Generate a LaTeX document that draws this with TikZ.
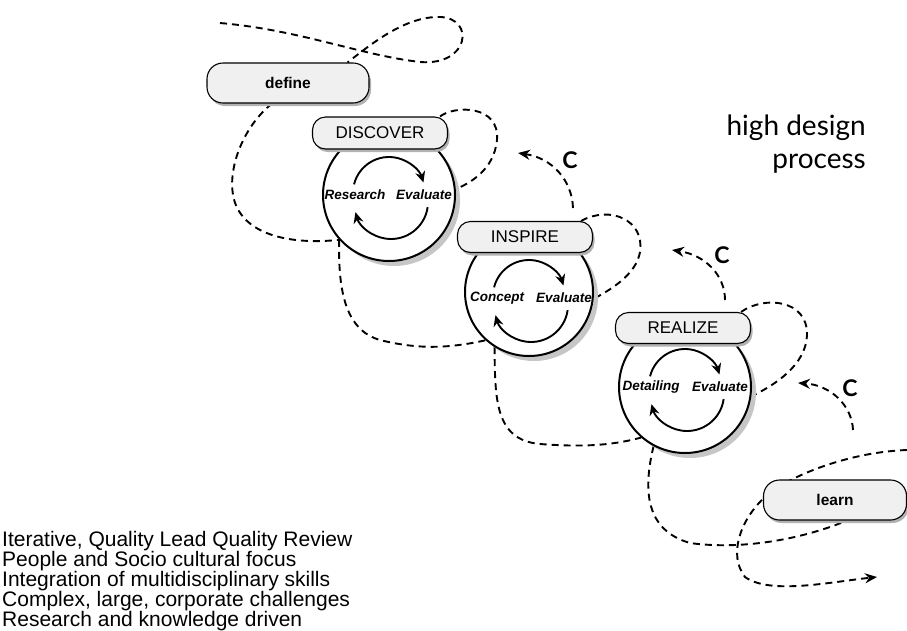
\documentclass[tikz,border=0pt]{standalone}
\usepackage{fontspec}
\setmainfont{Liberation Sans}
\newfontfamily\hfont{Lato}
\usetikzlibrary{arrows.meta,calc,shadows}
\pgfdeclarelayer{background}
\pgfsetlayers{background,main}
\tikzset{
 dline/.style={line width=1.9pt, dash pattern=on 7pt off 5pt},
 pill/.style={draw=black, line width=1.1pt, fill=gray!12, rounded corners=13pt, inner sep=0pt,
   drop shadow={shadow xshift=2pt, shadow yshift=-3pt, fill=gray!60, opacity=1}},
 circ/.style={circle, draw=black, line width=2pt, fill=white, inner sep=0pt,
   drop shadow={shadow xshift=5pt, shadow yshift=-5pt, fill=gray!45, opacity=1}},
 inarr/.style={line width=1.9pt, -{Stealth[length=11pt,width=10pt]}},
 clab/.style={font=\hfont\bfseries\fontsize{23}{23}\selectfont, inner sep=0pt},
 cyc/.style={font=\bfseries\itshape\fontsize{13.5}{13.5}\selectfont, inner sep=0pt},
 tipend/.style={-{Stealth[length=12pt,width=10pt]}},
 bigpill/.style={pill, font=\bfseries\fontsize{15.5}{16}\selectfont},
 stagepill/.style={pill, font=\fontsize{17}{17}\selectfont, minimum width=135pt, minimum height=32pt}
}
\begin{document}
\begin{tikzpicture}[x=1pt,y=1pt]
\useasboundingbox (0,-630) rectangle (907,0);

% circles and pills
\node[circ, minimum size=132pt] (dcirc) at (389,-195) {};
\node[stagepill] (disc) at (380,-133) {DISCOVER};
\node[bigpill, minimum width=162pt, minimum height=40pt, rounded corners=16pt] (define) at (288,-83) {define};
\node[circ, minimum size=128pt] (icirc) at (529,-292) {};
\node[stagepill, minimum height=31pt] (insp) at (525,-237) {INSPIRE};
\node[circ, minimum size=132pt] (rcirc) at (685,-387) {};
\node[stagepill, minimum height=31pt] (real) at (683,-328) {REALIZE};
\node[bigpill, minimum width=143pt, minimum height=40pt, rounded corners=16pt] (learn) at (835,-500) {learn};

% cycle labels
\node[cyc] (res) at (355,-195) {Research};
\node[cyc] (ev1) at (424,-195) {Evaluate};
\node[cyc] (con) at (497,-298) {Concept};
\node[cyc] (ev2) at (564,-298) {Evaluate};
\node[cyc] (det) at (651,-387) {Detailing};
\node[cyc] (ev3) at (720,-387) {Evaluate};

% cycle arrows
\draw[inarr] ($(389,-193)+(166:36)$) arc[start angle=166,end angle=17,radius=36];
\draw[inarr] ($(391,-202)+(-8:37)$) arc[start angle=-8,end angle=-164,radius=37];
\draw[inarr] ($(529,-296)+(166:36)$) arc[start angle=166,end angle=17,radius=36];
\draw[inarr] ($(531,-305)+(-8:37)$) arc[start angle=-8,end angle=-164,radius=37];
\draw[inarr] ($(685,-385)+(166:36)$) arc[start angle=166,end angle=17,radius=36];
\draw[inarr] ($(687,-394)+(-8:37)$) arc[start angle=-8,end angle=-164,radius=37];

% C labels
\node[clab] (lc1) at (570,-160) {C};
\node[clab] (lc2) at (722,-255) {C};
\node[clab] (lc3) at (850,-388) {C};

% title
\node[anchor=base east, inner sep=0pt, font=\hfont\fontsize{28}{28}\selectfont] (ht1) at (866,-135) {high design};
\node[anchor=base east, inner sep=0pt, font=\hfont\fontsize{28}{28}\selectfont] (ht2) at (866,-168) {process};

% list
\node[anchor=north west, inner sep=0pt, align=left, font=\fontsize{21}{20}\selectfont] (list) at (2,-531)
 {Iterative, Quality Lead Quality Review\\People and Socio cultural focus\\Integration of multidisciplinary skills\\Complex, large, corporate challenges\\Research and knowledge driven};

\coordinate (t0) at (220,-23);
\coordinate (r0) at (907,-450);
\coordinate (r1) at (877,-577);
\coordinate (c1a) at (573,-208);
\coordinate (c1b) at (518,-153);
\coordinate (c2a) at (725,-300);
\coordinate (c2b) at (672,-250);
\coordinate (c3a) at (853,-430);
\coordinate (c3b) at (798,-383);

\begin{pgfonlayer}{background}
\draw[dline] (t0) .. controls (300,-30) and (360,-55) .. (420,-62)
  .. controls (470,-66) and (475,-18) .. (440,-17)
  .. controls (405,-16) and (370,-45) .. ($(define.north east)+(-22,0)$);
\draw[dline] ($(define.south)+(-16,0)$) .. controls (245,-125) and (228,-165) .. (233,-195)
  .. controls (240,-235) and (290,-245) .. (dcirc.222);
\draw[dline] ($(disc.north east)+(-8,0)$) .. controls (455,-105) and (500,-105) .. (497,-140)
  .. controls (494,-170) and (470,-183) .. (dcirc.5);
\draw[dline] (dcirc.222) .. controls (338,-290) and (345,-330) .. (380,-340)
  .. controls (420,-350) and (450,-348) .. (icirc.228);
\draw[dline] ($(insp.north east)+(-12,0)$) .. controls (610,-205) and (645,-220) .. (640,-252)
  .. controls (636,-275) and (610,-290) .. (icirc.354);
\draw[dline] (icirc.238) .. controls (495,-400) and (495,-440) .. (540,-444)
  .. controls (580,-447) and (610,-446) .. (rcirc.229);
\draw[dline] ($(real.north east)+(-10,0)$) .. controls (765,-295) and (808,-300) .. (807,-335)
  .. controls (806,-365) and (775,-385) .. (rcirc.352);
\draw[dline] (rcirc.242) .. controls (643,-490) and (645,-530) .. (690,-543)
  .. controls (740,-550) and (800,-540) .. ($(learn.south)+(12,0)$);
\draw[dline, tipend] (r0) .. controls (850,-452) and (790,-475) .. ($(learn.west)+(2,3)$)
  .. controls (740,-520) and (728,-555) .. (745,-577)
  .. controls (770,-595) and (830,-582) .. (r1);
\draw[dline, tipend] (c1a) .. controls (572,-180) and (552,-158) .. (c1b);
\draw[dline, tipend] (c2a) .. controls (725,-275) and (705,-255) .. (c2b);
\draw[dline, tipend] (c3a) .. controls (852,-405) and (830,-385) .. (c3b);
\end{pgfonlayer}
\end{tikzpicture}
\end{document}
